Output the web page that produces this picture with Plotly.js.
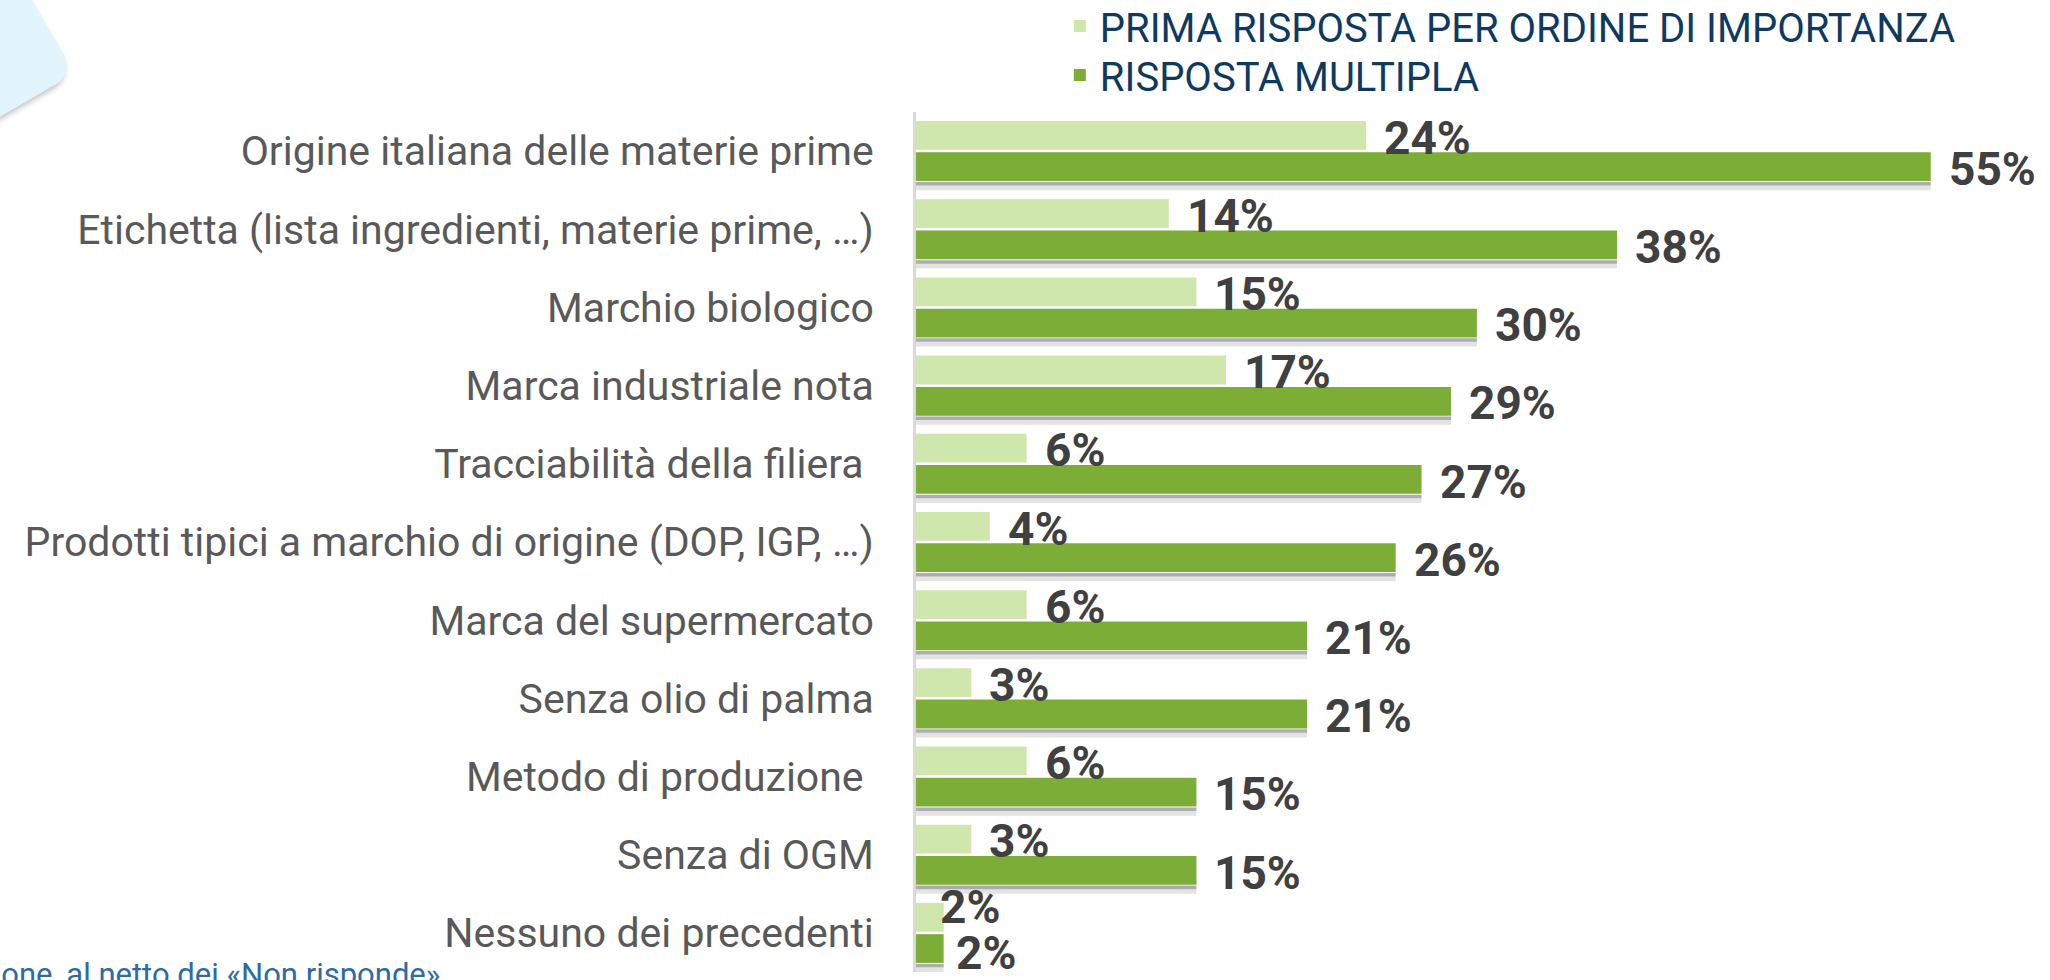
<!DOCTYPE html>
<html>
<head>
<meta charset="utf-8">
<script src="https://cdn.plot.ly/plotly-3.0.1.min.js"></script>
<style>
  html, body { margin: 0; padding: 0; background: #ffffff; width: 2050px; height: 980px; overflow: hidden; }
  #deco { position: absolute; left: -233px; top: -104px; width: 260px; height: 260px;
          background: #e1f5fd; border-radius: 22px; transform: rotate(60deg);
          box-shadow: 2px 4px 6px rgba(0,0,0,0.28); }
  #chart { position: absolute; left: 0; top: 0; width: 2050px; height: 980px; }
</style>
</head>
<body>
<div id="deco"></div>
<div id="chart"></div>
<script>
// ---- data ----
const categories = [
  "Origine italiana delle materie prime",
  "Etichetta (lista ingredienti, materie prime, …)",
  "Marchio biologico",
  "Marca industriale nota",
  "Tracciabilità della filiera\u00a0",
  "Prodotti tipici a marchio di origine (DOP, IGP, …)",
  "Marca del supermercato",
  "Senza olio di palma",
  "Metodo di produzione\u00a0",
  "Senza di OGM",
  "Nessuno dei precedenti"
];
const primaRisposta = [24.4, 13.7, 15.2, 16.8, 6, 4, 6, 3, 6, 3, 1.5];
const rispostaMultipla = [55, 38, 30.4, 29, 27.4, 26, 21.2, 21.2, 15.2, 15.2, 1.5];
const seriesNames = ["PRIMA RISPOSTA PER ORDINE DI IMPORTANZA", "RISPOSTA MULTIPLA"];
const footnote = "Base: popolazione, al netto dei «Non risponde»";

// ---- styles ----
const lightGreen = "#cfe6ad";
const darkGreen = "#7cae37";
const labelColor = "#404040";
const legendFont = { family: "Roboto", size: 40, color: "#0f3a5f" };
const labelFont = { family: "Roboto", size: 46, color: labelColor, weight: 700 };

const traces = [
  {
    type: "bar", orientation: "h", name: seriesNames[0], legend: "legend",
    y: categories, x: primaRisposta,
    marker: { color: lightGreen, line: { width: 0 } },
    hoverinfo: "skip"
  },
  {
    type: "bar", orientation: "h", name: seriesNames[1], legend: "legend2",
    y: categories, x: rispostaMultipla,
    marker: { color: darkGreen, line: { width: 0 } },
    hoverinfo: "skip"
  }
];

const annotations = [];
const shapes = [];
categories.forEach((c, i) => {
  // when both bars are nearly equal and tiny, spread the two labels apart (as in the source)
  const crowded = Math.abs(primaRisposta[i] - rispostaMultipla[i]) < 3;
  annotations.push({
    x: primaRisposta[i], y: i - 0.21, xref: "x", yref: "y",
    text: Math.round(primaRisposta[i]) + "%", showarrow: false,
    xanchor: "left", yanchor: "middle",
    xshift: crowded ? -6 : 16, yshift: crowded ? 9 : -3,
    font: labelFont
  });
  annotations.push({
    x: rispostaMultipla[i], y: i + 0.19, xref: "x", yref: "y",
    text: Math.round(rispostaMultipla[i]) + "%", showarrow: false,
    xanchor: "left", yanchor: "middle",
    xshift: crowded ? 10 : 16, yshift: crowded ? -5 : -3,
    font: labelFont
  });
  // soft shadow beneath each multiple-answer bar
  shapes.push({ type: "rect", xref: "x", yref: "y", x0: 0, x1: rispostaMultipla[i],
    y0: i + 0.395, y1: i + 0.44, fillcolor: "rgba(0,0,0,0.32)", line: { width: 0 }, layer: "below" });
  shapes.push({ type: "rect", xref: "x", yref: "y", x0: 0, x1: rispostaMultipla[i],
    y0: i + 0.44, y1: i + 0.50, fillcolor: "rgba(0,0,0,0.11)", line: { width: 0 }, layer: "below" });
});

annotations.push({
  xref: "paper", yref: "paper", x: -0.4282, y: 0, xanchor: "right", yanchor: "top",
  yshift: 18, text: footnote, showarrow: false,
  font: { family: "Roboto", size: 31, color: "#2f6aa3" }
});

const layout = {
  width: 2050, height: 980,
  paper_bgcolor: "rgba(0,0,0,0)", plot_bgcolor: "rgba(0,0,0,0)",
  margin: { l: 916, r: 27, t: 112, b: 8, autoexpand: false },
  barmode: "group", bargap: 0.2, bargroupgap: 0.08,
  font: { family: "Roboto" },
  xaxis: { range: [0, 60], visible: false, fixedrange: true },
  yaxis: {
    range: [10.5, -0.5], type: "category",
    showline: true, linecolor: "#d9d9d9", linewidth: 3,
    showgrid: false, zeroline: false, ticks: "",
    ticklabelstandoff: 31,
    tickfont: { family: "Roboto", size: 41, color: "#595959" }
  },
  showlegend: true,
  legend: {
    xref: "container", yref: "container", x: 0.517, y: 1 - 26 / 980, xanchor: "left", yanchor: "middle",
    bgcolor: "rgba(0,0,0,0)", font: legendFont
  },
  legend2: {
    xref: "container", yref: "container", x: 0.517, y: 1 - 75 / 980, xanchor: "left", yanchor: "middle",
    bgcolor: "rgba(0,0,0,0)", font: legendFont
  },
  annotations: annotations,
  shapes: shapes
};

Plotly.newPlot("chart", traces, layout, { staticPlot: true, displayModeBar: false });
</script>
</body>
</html>
